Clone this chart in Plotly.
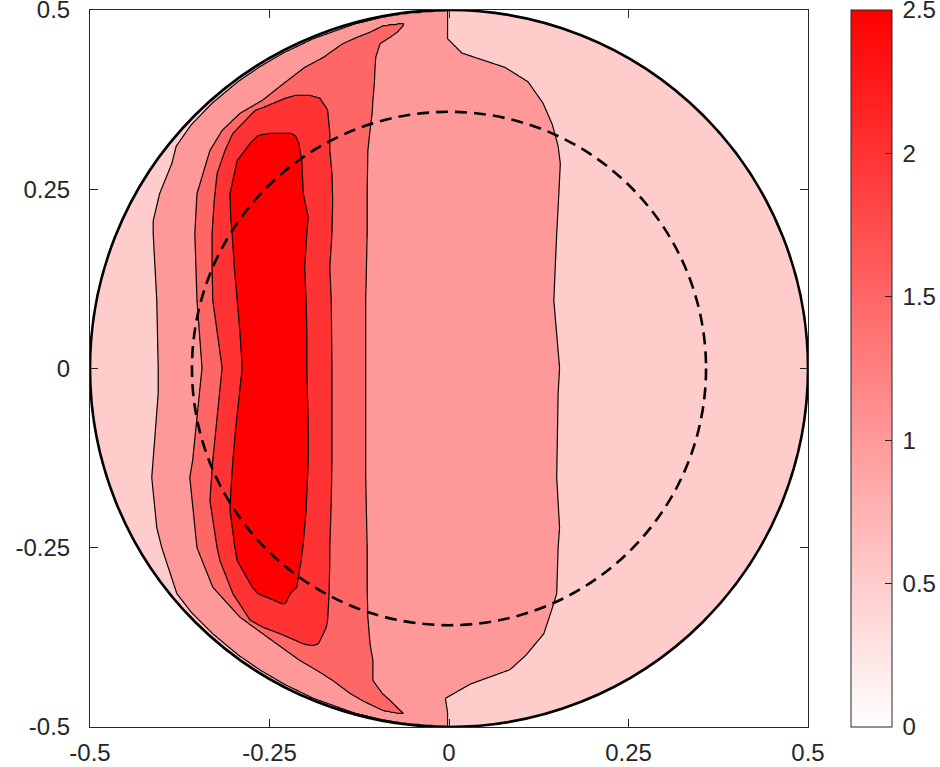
import numpy as np
import plotly.graph_objects as go

# ---------------- data ----------------
# contour levels (filled band colours use the lower level of each band)
levels = [1.0, 1.5, 2.0, 2.5]
base_value = 0.5
tick_vals = [-0.5, -0.25, 0, 0.25, 0.5]
tick_text = ["-0.5", "-0.25", "0", "0.25", "0.5"]
cbar_vals = [0, 0.5, 1, 1.5, 2, 2.5]
cbar_text = ["0", "0.5", "1", "1.5", "2", "2.5"]
domain_radius = 0.5
inner_radius = 0.358

# boundaries of the region where value >= level, given per row y as (left x, right x)
y_10 = [0.51, 0.500, 0.495, 0.49, 0.48, 0.46, 0.44, 0.42, 0.40, 0.37, 0.34, 0.31, 0.286,
        0.244, 0.206, 0.188, 0.095, 0.001, -0.035, -0.152, -0.222, -0.250, -0.314,
        -0.34, -0.37, -0.40, -0.42, -0.44, -0.46, -0.48, -0.49, -0.495, -0.5, -0.51]
xl_10 = [-0.003, -0.003, -0.064, -0.093, -0.133, -0.189, -0.231, -0.265, -0.294, -0.330,
         -0.359, -0.380, -0.386, -0.403, -0.412, -0.412, -0.407, -0.405, -0.405, -0.414,
         -0.407, -0.400, -0.379, -0.359, -0.329, -0.293, -0.264, -0.230, -0.189, -0.133,
         -0.093, -0.064, -0.003, -0.003]
xr_10 = [-0.002, -0.002, -0.002, -0.002, -0.002, -0.002, 0.018, 0.078, 0.110, 0.131,
         0.144, 0.152, 0.155, 0.153, 0.151, 0.150, 0.146, 0.154, 0.152, 0.150, 0.154,
         0.152, 0.150, 0.142, 0.132, 0.107, 0.085, 0.030, -0.005, -0.002, -0.002,
         -0.002, -0.002, -0.002]

y_15 = [0.481, 0.478, 0.469, 0.462, 0.453, 0.434, 0.420, 0.397, 0.374, 0.356, 0.332,
        0.304, 0.244, 0.188, 0.095, 0.001, -0.128, -0.152, -0.250, -0.305, -0.347,
        -0.384, -0.407, -0.421, -0.435, -0.453, -0.463, -0.477, -0.481]
xl_15 = [-0.068, -0.092, -0.110, -0.128, -0.148, -0.175, -0.201, -0.231, -0.260, -0.291,
         -0.316, -0.333, -0.351, -0.354, -0.351, -0.344, -0.357, -0.361, -0.351, -0.329,
         -0.291, -0.240, -0.208, -0.184, -0.162, -0.138, -0.121, -0.092, -0.071]
xr_15 = [-0.063, -0.064, -0.072, -0.082, -0.096, -0.102, -0.103, -0.104, -0.106, -0.107,
         -0.110, -0.113, -0.114, -0.114, -0.116, -0.116, -0.116, -0.116, -0.114, -0.114,
         -0.113, -0.110, -0.106, -0.106, -0.106, -0.093, -0.082, -0.068, -0.063]

y_20 = [0.381, 0.377, 0.364, 0.360, 0.328, 0.304, 0.272, 0.234, 0.188, 0.141, 0.095,
        0.001, -0.128, -0.184, -0.250, -0.268, -0.314, -0.351, -0.361, -0.370, -0.384,
        -0.386]
xl_20 = [-0.214, -0.228, -0.259, -0.270, -0.301, -0.312, -0.323, -0.327, -0.330, -0.330,
         -0.329, -0.316, -0.329, -0.333, -0.323, -0.319, -0.301, -0.277, -0.259, -0.235,
         -0.203, -0.194]
xr_20 = [-0.194, -0.180, -0.171, -0.169, -0.166, -0.166, -0.163, -0.162, -0.163, -0.166,
         -0.164, -0.163, -0.163, -0.164, -0.166, -0.166, -0.167, -0.169, -0.171, -0.175,
         -0.182, -0.188]

y_25 = [0.328, 0.325, 0.314, 0.290, 0.244, 0.211, 0.188, 0.141, 0.095, 0.049, 0.001,
        -0.082, -0.128, -0.174, -0.198, -0.244, -0.268, -0.305, -0.314, -0.324, -0.328]
xl_25 = [-0.249, -0.266, -0.277, -0.295, -0.305, -0.304, -0.302, -0.299, -0.295, -0.291,
         -0.288, -0.297, -0.301, -0.304, -0.305, -0.299, -0.295, -0.274, -0.266, -0.242,
         -0.233]
xr_25 = [-0.221, -0.214, -0.209, -0.205, -0.203, -0.196, -0.198, -0.201, -0.199, -0.198,
         -0.198, -0.196, -0.196, -0.198, -0.199, -0.203, -0.206, -0.212, -0.221, -0.226,
         -0.228]

regions = [(y_10, xl_10, xr_10), (y_15, xl_15, xr_15),
           (y_20, xl_20, xr_20), (y_25, xl_25, xr_25)]

# ---------------- build the field on a grid ----------------
n = 667
g = np.linspace(-domain_radius, domain_radius, n)
X, Y = np.meshgrid(g, g)
ramp = 0.004


def depth(ys, xl, xr):
    ys = np.asarray(ys)[::-1]
    a = np.interp(Y, ys, np.asarray(xl)[::-1])
    b = np.interp(Y, ys, np.asarray(xr)[::-1])
    d = np.minimum(np.minimum(X - a, b - X), np.minimum(Y - ys.min(), ys.max() - Y))
    return d


count = np.zeros_like(X)
smooth = np.zeros_like(X)
for ys, xl, xr in regions:
    d = depth(ys, xl, xr)
    count += (d > 0)
    smooth += np.clip(d / ramp + 0.5, 0, 1)

inside = X ** 2 + Y ** 2 <= domain_radius ** 2
z_fill = base_value + 0.5 * count
z_fill = np.where(inside, z_fill, np.nan).astype(np.float32)
z_line = (base_value + 0.25 + 0.5 * smooth).astype(np.float32)

txt = "#262626"
font = dict(family="Liberation Sans, Arial, Helvetica, sans-serif", size=24, color=txt)

fig = go.Figure()
fig.add_trace(go.Heatmap(
    x=g, y=g, z=z_fill, zmin=0, zmax=2.5, zsmooth=False,
    colorscale=[[0, "rgb(255,255,255)"], [1, "rgb(255,0,0)"]],
    hoverinfo="skip",
    colorbar=dict(
        thickness=41, thicknessmode="pixels", len=1, lenmode="fraction",
        x=1.0599, xanchor="left", xpad=0, y=0.5, yanchor="middle", ypad=0,
        tickmode="array", tickvals=cbar_vals,
        ticktext=["\u2009" + t for t in cbar_text],
        ticks="inside", ticklen=7, tickcolor=txt, tickwidth=1,
        outlinecolor=txt, outlinewidth=1, tickfont=font,
        ticklabeloverflow="allow",
    ),
))
fig.add_trace(go.Contour(
    x=g, y=g, z=z_line,
    autocontour=False,
    contours=dict(start=levels[0], end=levels[-1], size=0.5, coloring="none"),
    line=dict(color="black", width=1.2, smoothing=1),
    showscale=False, hoverinfo="skip",
))

fig.add_shape(type="circle", xref="x", yref="y",
              x0=-inner_radius, x1=inner_radius, y0=-inner_radius, y1=inner_radius,
              line=dict(color="black", width=2.6, dash="12px,7px"))
fig.add_shape(type="circle", xref="x", yref="y",
              x0=-domain_radius, x1=domain_radius, y0=-domain_radius, y1=domain_radius,
              line=dict(color="black", width=2.6))

axis_common = dict(
    range=[-0.5, 0.5], tickmode="array", tickvals=tick_vals, ticktext=tick_text,
    showgrid=False, zeroline=False, showline=True, linecolor=txt, linewidth=1,
    mirror="ticks", ticks="inside", ticklen=8, tickcolor=txt, tickwidth=1,
    tickfont=font, ticklabeloverflow="allow",
)
fig.update_xaxes(**axis_common, ticklabelstandoff=4)
fig.update_yaxes(**axis_common, ticklabelstandoff=14)

fig.update_layout(
    width=940, height=767,
    margin=dict(l=90, r=132, t=10, b=40, autoexpand=False),
    paper_bgcolor="white", plot_bgcolor="white",
    showlegend=False,
)

fig.write_html("out.html")
